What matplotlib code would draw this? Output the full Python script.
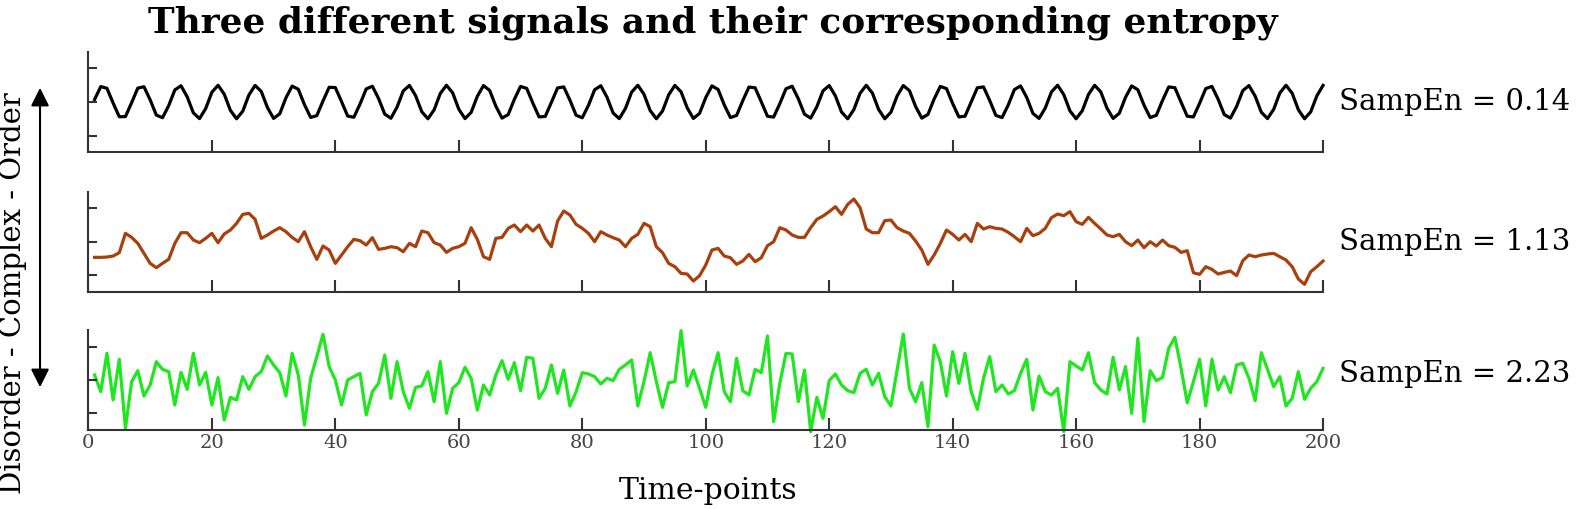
import numpy as np
import matplotlib
matplotlib.use("Agg")
import matplotlib.pyplot as plt

plt.rcParams['font.family'] = ['DejaVu Serif']

# values, time-points 1..200
ordered = [0.15, 0.92, 0.82, -0.06, -0.88, -0.87, -0.04, 0.83, 0.91, 0.13,
           -0.78, -0.94, -0.22, 0.72, 0.97, 0.31, -0.65, -0.99, -0.39, 0.58,
           1.00, 0.47, -0.50, -1.00, -0.55, 0.42, 0.99, 0.63, -0.33, -0.98,
           -0.70, 0.25, 0.95, 0.76, -0.16, -0.92, -0.81, 0.06, 0.88, 0.86,
           0.03, -0.84, -0.91, -0.12, 0.78, 0.94, 0.21, -0.72, -0.97, -0.30,
           0.66, 0.99, 0.38, -0.58, -1.00, -0.47, 0.51, 1.00, 0.55, -0.43,
           -0.99, -0.62, 0.34, 0.98, 0.69, -0.25, -0.96, -0.75, 0.16, 0.93,
           0.81, -0.07, -0.89, -0.86, -0.02, 0.84, 0.90, 0.11, -0.79, -0.94,
           -0.20, 0.73, 0.97, 0.29, -0.66, -0.99, -0.38, 0.59, 1.00, 0.46,
           -0.51, -1.00, -0.54, 0.43, 0.99, 0.61, -0.35, -0.98, -0.68, 0.26,
           0.96, 0.75, -0.17, -0.93, -0.80, 0.08, 0.89, 0.85, 0.01, -0.85,
           -0.90, -0.10, 0.79, 0.94, 0.19, -0.73, -0.96, -0.28, 0.67, 0.98,
           0.37, -0.60, -1.00, -0.45, 0.52, 1.00, 0.53, -0.44, -1.00, -0.61,
           0.36, 0.98, 0.68, -0.27, -0.96, -0.74, 0.18, 0.93, 0.80, -0.09,
           -0.89, -0.85, 0.00, 0.85, 0.90, 0.09, -0.80, -0.93, -0.18, 0.74,
           0.96, 0.27, -0.68, -0.98, -0.36, 0.60, 1.00, 0.44, -0.53, -1.00,
           -0.52, 0.45, 1.00, 0.60, -0.37, -0.98, -0.67, 0.28, 0.96, 0.73,
           -0.19, -0.93, -0.79, 0.10, 0.90, 0.85, -0.01, -0.85, -0.89, -0.08,
           0.80, 0.93, 0.17, -0.75, -0.96, -0.26, 0.68, 0.98, 0.35, -0.61,
           -0.99, -0.44, 0.54, 1.00, 0.52, -0.46, -1.00, -0.59, 0.37, 0.99]

complex_sig = [-0.94, -0.94, -0.92, -0.86, -0.66, 0.50, 0.26, -0.10, -0.70, -1.30,
               -1.56, -1.30, -1.06, -0.10, 0.54, 0.54, 0.10, -0.06, 0.20, 0.50,
               -0.06, 0.46, 0.70, 1.10, 1.64, 1.70, 1.34, 0.20, 0.40, 0.64,
               0.84, 0.60, 0.26, 0.00, 0.60, -0.30, -1.06, -0.26, -0.50, -1.30,
               -0.80, -0.30, 0.14, 0.06, -0.20, 0.24, -0.46, -0.40, -0.30, -0.36,
               -0.60, -0.10, -0.30, 0.64, 0.54, -0.06, -0.20, -0.64, -0.40, -0.30,
               -0.10, 0.84, 0.14, -0.90, -1.06, 0.20, 0.26, 0.80, 1.00, 0.60,
               1.00, 0.64, 1.00, 0.20, -0.30, 1.24, 1.84, 1.60, 1.04, 0.80,
               0.50, 0.00, 0.60, 0.40, 0.24, 0.10, -0.30, 0.20, 0.44, 1.10,
               0.90, -0.30, -0.66, -1.30, -1.50, -1.90, -1.94, -2.36, -2.04, -1.40,
               -0.50, -0.40, -0.86, -0.96, -1.36, -1.16, -0.76, -1.20, -0.96, -0.24,
               0.00, 0.84, 0.70, 0.40, 0.26, 0.26, 0.84, 1.34, 1.54, 1.80,
               2.10, 1.64, 2.24, 2.56, 2.04, 0.76, 0.54, 0.54, 1.26, 1.30,
               0.84, 0.64, 0.50, 0.04, -0.50, -1.36, -0.80, -0.10, 0.70, 0.44,
               0.10, 0.44, 0.00, 1.10, 0.76, 0.90, 0.80, 0.76, 0.56, 0.30,
               0.00, 0.80, 0.36, 0.50, 0.80, 1.44, 1.66, 1.56, 1.80, 1.20,
               1.04, 1.46, 1.10, 0.76, 0.40, 0.30, 0.44, 0.00, -0.24, 0.10,
               -0.36, 0.00, -0.26, 0.10, -0.24, -0.34, -0.64, -0.54, -1.86, -1.96,
               -1.50, -1.66, -1.94, -1.84, -1.76, -2.04, -1.14, -0.80, -0.90, -0.80,
               -0.74, -0.70, -0.90, -1.10, -1.50, -2.24, -2.56, -1.80, -1.50, -1.16]

disorder = [0.30, -0.70, 1.60, -1.20, 1.24, -2.90, -0.10, 0.56, -0.96, -0.30,
            1.10, 0.64, 0.50, -1.50, 0.46, -0.56, 1.60, -0.30, 0.46, -1.50,
            0.14, -2.40, -1.04, -1.20, 0.20, -0.56, 0.20, 0.50, 1.44, 0.90,
            0.44, -0.96, 1.60, 0.30, -2.70, 0.10, 1.40, 2.74, 0.80, 0.00,
            -1.50, 0.00, 0.20, 0.40, -2.10, -0.70, -0.20, 1.50, -1.10, 1.10,
            -0.70, -1.70, -0.44, -0.36, 0.50, -1.30, 1.10, -2.00, -0.50, -0.16,
            0.76, 0.10, -1.80, -0.30, -0.90, 0.30, 1.16, 0.04, 1.04, -0.64,
            1.36, 1.30, -1.10, -0.50, 0.90, -0.80, 0.60, -1.56, -0.70, 0.44,
            0.36, 0.20, -0.24, 0.10, -0.04, 0.64, 0.90, 1.20, -1.56, -0.10,
            1.64, -0.10, -1.64, -0.16, -0.10, 2.96, -0.36, 0.60, -0.50, -1.64,
            0.30, 1.64, -0.70, -1.30, 1.30, -0.64, -0.90, 0.64, 0.44, 2.64,
            -2.50, -0.20, 1.60, 1.56, -1.30, 0.60, -3.10, -1.04, -2.30, -0.04,
            0.36, -0.30, -0.64, -0.76, 0.40, 0.64, -0.30, 0.40, -1.00, -1.56,
            0.60, 2.76, -0.50, -1.30, -0.16, -2.80, 2.10, 1.10, -0.96, 1.70,
            -0.20, 1.60, -0.70, -1.76, 0.10, 1.40, -0.70, -0.30, -0.84, -0.64,
            0.40, 1.24, -1.80, 0.24, -0.70, -0.90, -0.50, -3.10, 1.10, 0.84,
            0.60, 1.64, -0.16, -0.60, -0.84, 1.36, -0.60, 0.80, -2.00, 2.50,
            -2.50, 0.56, -0.04, 0.16, 1.90, 2.56, 0.70, -1.36, -0.10, 1.24,
            -1.56, 1.24, -0.60, 0.20, -0.76, 0.90, 1.00, 0.10, -1.24, 1.64,
            0.64, -0.40, 0.20, -1.56, -1.10, 0.50, -1.16, -0.50, -0.10, 0.70]

signals = [ordered, complex_sig, disorder]
sampen = [0.14, 1.13, 2.23]
colors = ['black', '#a8400e', '#1fe61f']
time = np.arange(1, 201)

fig = plt.figure(figsize=(15.76, 5.09), dpi=100)

boxes = [[0.0561, 0.7008, 0.7834, 0.1976],
         [0.0561, 0.4269, 0.7834, 0.1965],
         [0.0561, 0.1552, 0.7834, 0.1965]]
label_y = [0.5, 0.5, 0.56]

for i in range(3):
    ax = fig.add_axes(boxes[i])
    ax.plot(time, signals[i], color=colors[i], lw=2.3, clip_on=False, zorder=1)
    ax.set_xlim(0, 200)
    ax.set_ylim(-3, 3)
    ax.set_xticks(np.arange(0, 201, 20))
    ax.set_yticks([-2, 0, 2])
    ax.set_yticklabels([])
    for side in ['top', 'right']:
        ax.spines[side].set_visible(False)
    for side in ['left', 'bottom']:
        ax.spines[side].set_color('#333333')
        ax.spines[side].set_linewidth(1.5)
        ax.spines[side].set_zorder(3)
    ax.tick_params(axis='both', direction='in', color='#333333', width=1.5)
    ax.tick_params(axis='x', length=8.5, pad=3, labelsize=14, labelcolor='#444444')
    ax.tick_params(axis='y', length=6.5)
    if i < 2:
        ax.set_xticklabels([])
    ax.text(1.013, label_y[i], f'SampEn = {sampen[i]:.2f}', transform=ax.transAxes,
            ha='left', va='center', fontsize=21)

fig.text(0.452, 1 - 23 / 509, 'Three different signals and their corresponding entropy',
         ha='center', va='center', fontsize=25.8, fontweight='bold')
fig.text(0.449, 1 - 491 / 509, 'Time-points', ha='center', va='center', fontsize=21.5)
fig.text(0.0085, 0.4234, 'Disorder - Complex - Order', rotation=90,
         ha='center', va='center', fontsize=21)
fig.patches.append(matplotlib.patches.FancyArrowPatch(
    (0.0254, 0.2338), (0.0254, 0.833), transform=fig.transFigure,
    arrowstyle='<|-|>,head_length=0.5,head_width=0.25', mutation_scale=22,
    color='black', lw=1.5))

plt.savefig('out.png', dpi=100)
